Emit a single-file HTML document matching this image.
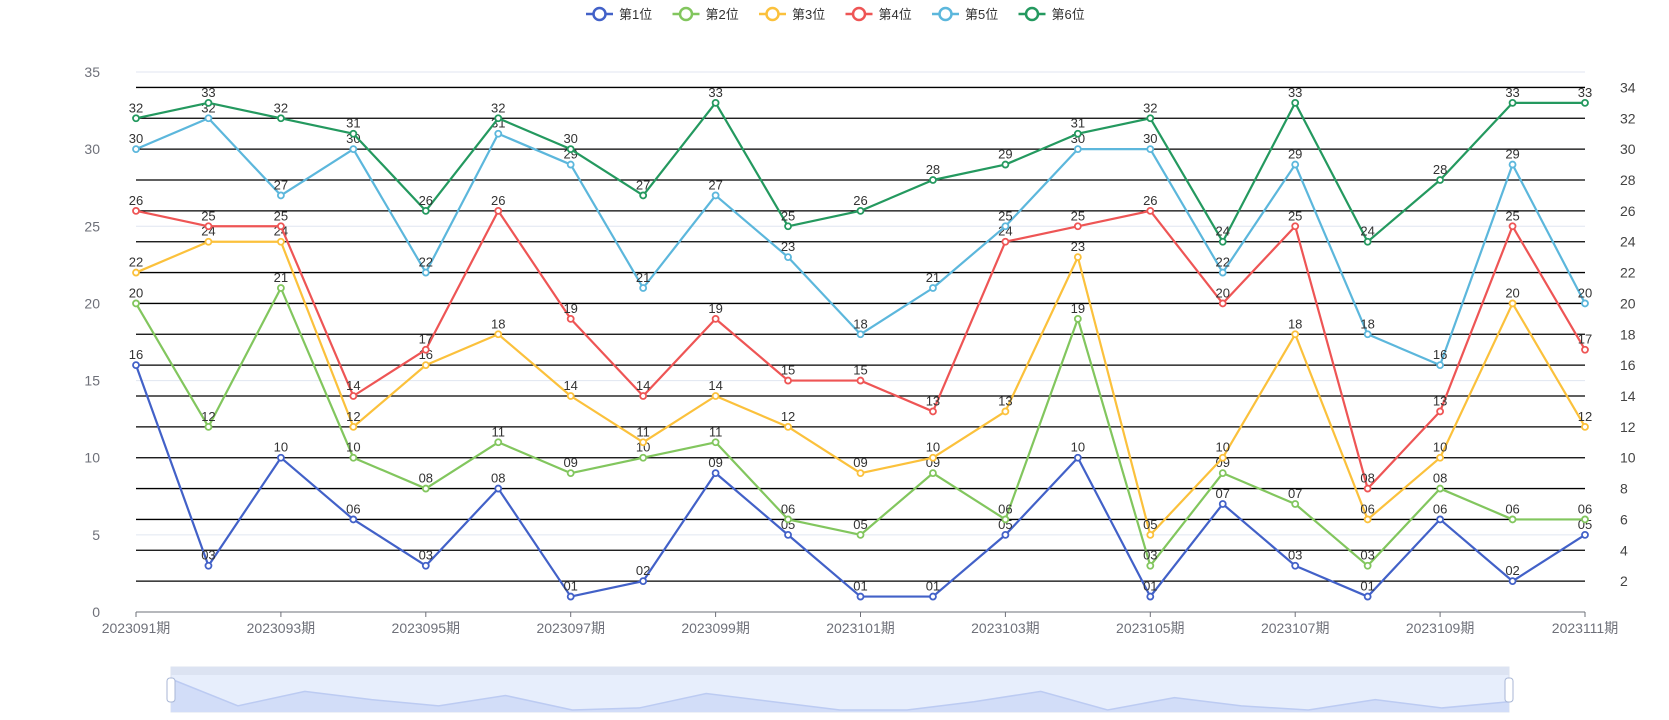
<!DOCTYPE html>
<html><head><meta charset="utf-8"><style>
html,body{margin:0;padding:0;background:#fff;}
svg{display:block;font-family:"Liberation Sans","Noto Sans CJK SC",sans-serif;}
</style></head><body>
<svg id="chart" width="1669" height="720" viewBox="0 0 1669 720"></svg>
<script>
const categories = ["2023091期","2023092期","2023093期","2023094期","2023095期","2023096期","2023097期","2023098期","2023099期","2023100期","2023101期","2023102期","2023103期","2023104期","2023105期","2023106期","2023107期","2023108期","2023109期","2023110期","2023111期"];
const seriesNames = ["第1位","第2位","第3位","第4位","第5位","第6位"];
const s1 = [16,3,10,6,3,8,1,2,9,5,1,1,5,10,1,7,3,1,6,2,5];
const s2 = [20,12,21,10,8,11,9,10,11,6,5,9,6,19,3,9,7,3,8,6,6];
const s3 = [22,24,24,12,16,18,14,11,14,12,9,10,13,23,5,10,18,6,10,20,12];
const s4 = [26,25,25,14,17,26,19,14,19,15,15,13,24,25,26,20,25,8,13,25,17];
const s5 = [30,32,27,30,22,31,29,21,27,23,18,21,25,30,30,22,29,18,16,29,20];
const s6 = [32,33,32,31,26,32,30,27,33,25,26,28,29,31,32,24,33,24,28,33,33];
const leftTicks = [0,5,10,15,20,25,30,35];
const rightTicks = [2,4,6,8,10,12,14,16,18,20,22,24,26,28,30,32,34];
const colors = ["#4261c8","#82c65e","#fbc13c","#ee5555","#5cb7dc","#24995f"];
const allSeries = [s1,s2,s3,s4,s5,s6];

const NS = "http://www.w3.org/2000/svg";
const svg = document.getElementById("chart");
const X0 = 136, X1 = 1585, Y0 = 612, YT = 72;
const xs = i => X0 + (X1 - X0) * i / (categories.length - 1);
const ys = v => Y0 - (Y0 - YT) * v / 35;
function mk(tag, attrs, parent){ const e=document.createElementNS(NS,tag); for(const k in attrs) e.setAttribute(k,attrs[k]); (parent||svg).appendChild(e); return e; }

leftTicks.forEach(t=>{
  const g = mk("line",{x1:X0,x2:X1,y1:ys(t),y2:ys(t),stroke:"#e0e6f1","stroke-width":1});
  
  
  const tx = mk("text",{x:100,y:ys(t)+5,"text-anchor":"end","font-size":14,fill:"#6e7079"});
  tx.textContent = t;
  
  
});
rightTicks.forEach(t=>{
  const g = mk("line",{x1:X0,x2:X1,y1:ys(t),y2:ys(t),stroke:"#000","stroke-width":1.3});
  
  
  const tx = mk("text",{x:1620,y:ys(t)+5,"text-anchor":"start","font-size":14,fill:"#444"});
  tx.textContent = t;
  
  
});
const ax = mk("line",{x1:X0,x2:X1,y1:Y0,y2:Y0,stroke:"#6e7079","stroke-width":1});


categories.forEach((c,i)=>{
  if(i%2===0){
    const tk = mk("line",{x1:xs(i),x2:xs(i),y1:Y0,y2:Y0+5,stroke:"#6e7079"});
    
    
    const tx = mk("text",{x:xs(i),y:Y0+21,"text-anchor":"middle","font-size":14,fill:"#6e7079"});
    tx.textContent = c;
    
    
  }
});
allSeries.forEach((data,si)=>{
  const g = mk("g",{});
  
  
  const pl = mk("polyline",{points:data.map((v,i)=>xs(i)+","+ys(v)).join(" "),fill:"none",stroke:colors[si],"stroke-width":2.2,"stroke-linejoin":"round"},g);
  
  
  data.forEach((v,i)=>{
    const c = mk("circle",{cx:xs(i),cy:ys(v),r:3,fill:"#fff",stroke:colors[si],"stroke-width":1.8},g);
    
    
    const t = mk("text",{x:xs(i),y:ys(v)-6,"text-anchor":"middle","font-size":13,fill:"#333"},g);
    t.textContent = String(v).padStart(2,"0");
    
    
  });
});
seriesNames.forEach((n,i)=>{
  const x = 586 + i*86.5, y = 14;
  const g = mk("g",{});
  
  
  mk("line",{x1:x,x2:x+27,y1:y,y2:y,stroke:colors[i],"stroke-width":2.5},g);
  mk("circle",{cx:x+13.5,cy:y,r:6,fill:"#fff",stroke:colors[i],"stroke-width":2.5},g);
  const t = mk("text",{x:x+33,y:y+5,"font-size":13,fill:"#333"},g);
  t.textContent = n;
});
const SX0=171, SX1=1509, SY0=667, SY1=712;
const dz = mk("g",{});


mk("rect",{x:SX0,y:SY0,width:SX1-SX0,height:SY1-SY0,fill:"#e7eefc",stroke:"#dde3ef"},dz);
mk("rect",{x:SX0,y:SY0,width:SX1-SX0,height:8,fill:"#dce3f2"},dz);
const mx = Math.max(...s1), mn = Math.min(...s1);
const sx = i => SX0 + (SX1-SX0)*i/(s1.length-1);
const sy = v => SY1 - 2 - (SY1-SY0-14)*(v-mn)/(mx-mn);
let d = "M"+SX0+","+SY1+" "+s1.map((v,i)=>"L"+sx(i)+","+sy(v)).join(" ")+" L"+SX1+","+SY1+"Z";
mk("path",{d:d,fill:"#d2ddf8"},dz);
mk("polyline",{points:s1.map((v,i)=>sx(i)+","+sy(v)).join(" "),fill:"none",stroke:"#bccbf2","stroke-width":1.5},dz);
[SX0,SX1].forEach(hx=>{
  const h = mk("rect",{x:hx-4,y:678,width:8,height:24,rx:3,fill:"#fff",stroke:"#a8b6d6","stroke-width":1},dz);
  
  
});
</script>
</body></html>
